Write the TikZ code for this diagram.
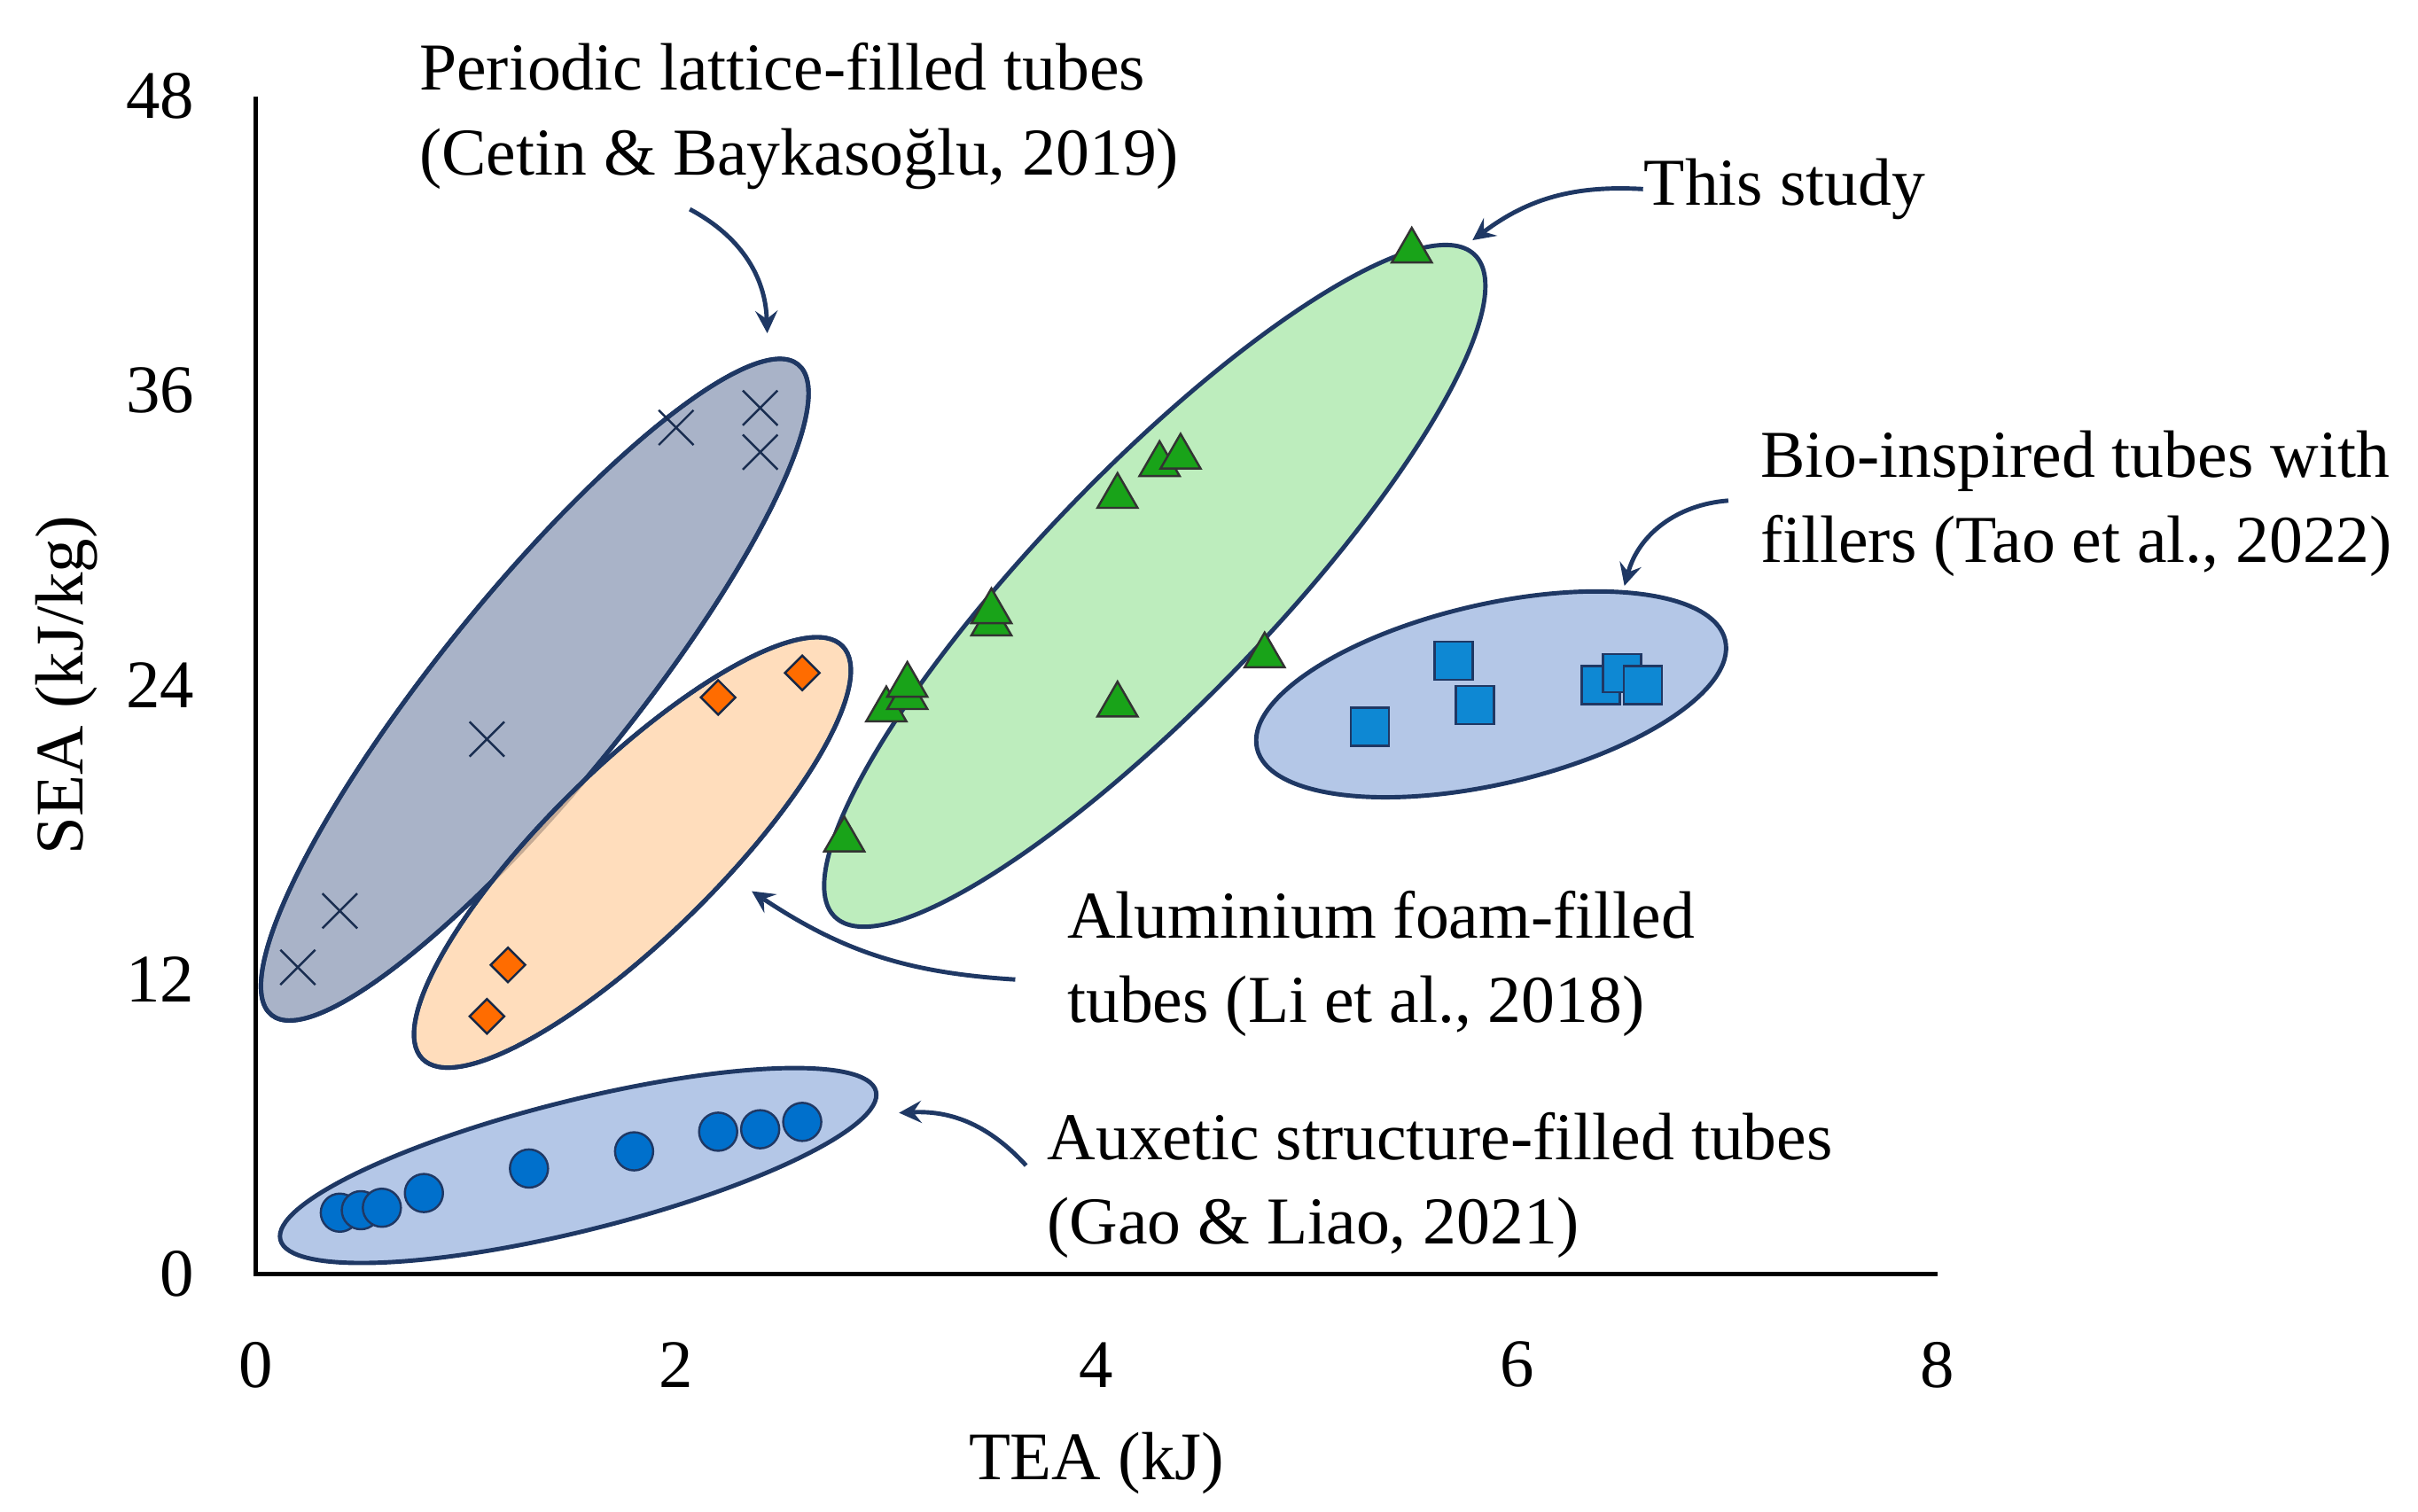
\documentclass[tikz,border=0pt]{standalone}
\usepackage{fontspec}
\setmainfont{Liberation Serif}
\usetikzlibrary{arrows,shapes,positioning}
\definecolor{navy}{HTML}{1F3864}
\definecolor{slate}{HTML}{8C9AB5}
\definecolor{paleblue}{HTML}{B4C7E7}
\tikzset{
  lbl/.style   = {align=left, anchor=west, font=\fontsize{12.3}{15.5}\selectfont, inner sep=0pt},
  tick/.style  = {font=\fontsize{12.5}{15}\selectfont},
  blob/.style  = {draw=navy, thick, fill opacity=0.75},
  pointer/.style = {->, >=stealth, thick, navy},
  crossmk/.style = {cross out, draw=navy!80!black, thin, minimum size=6pt, inner sep=0pt},
  diamk/.style = {diamond, draw=navy!70!black, fill=orange!85!red, minimum size=6.5pt, inner sep=0pt},
  trimk/.style = {regular polygon, regular polygon sides=3, draw=black!80, fill=green!60!black!90, minimum size=8.5pt, inner sep=0pt},
  sqmk/.style  = {rectangle, draw=navy, fill=cyan!70!blue, minimum size=7pt, inner sep=0pt},
  cirmk/.style = {circle, draw=navy, fill=blue!45!cyan!80!black, minimum size=7pt, inner sep=0pt}
}
\begin{document}
\begin{tikzpicture}
\useasboundingbox (0,0) rectangle (15.6,9.75);

% groups
\fill[blob, fill=slate] (3.45,5.30) ellipse [x radius=2.7cm, y radius=0.62cm, rotate=51];
\draw[navy, thick] (3.45,5.30) ellipse [x radius=2.7cm, y radius=0.62cm, rotate=51];
\fill[blob, fill=orange!35] (4.08,4.25) ellipse [x radius=1.9cm, y radius=0.55cm, rotate=44.5];
\draw[navy, thick] (4.08,4.25) ellipse [x radius=1.9cm, y radius=0.55cm, rotate=44.5];
\filldraw[draw=navy, thick, fill=green!30!white!90!black!70] (7.45,5.97) ellipse [x radius=2.97cm, y radius=0.75cm, rotate=46];
\filldraw[draw=navy, thick, fill=paleblue] (9.62,5.27) ellipse [x radius=1.55cm, y radius=0.58cm, rotate=13];
\filldraw[draw=navy, thick, fill=paleblue] (3.73,2.23) ellipse [x radius=1.98cm, y radius=0.42cm, rotate=14];

\begin{scope}[shift={(1.65,1.53)}, x=1.356cm, y=0.1583cm]
  % axes
  \draw[thick] (0,48) -- (0,0) -- (8,0);
  \foreach \v in {0,12,24,36,48}
    \node[tick, anchor=east] (y\v) at (-0.2,\v) {\v};
  \foreach \v in {0,2,4,6,8}
    \node[tick] (x\v) at (\v,-3.7) {\v};
  \node[tick, rotate=90] (ylab) at (-0.9,24) {SEA (kJ/kg)};
  \node[tick] (xlab) at (4,-7.7) {TEA (kJ)};

  % data
  \foreach \p [count=\i] in {(0.2,12.5),(0.4,14.8),(1.1,21.8),(2.0,34.5),(2.4,35.3),(2.4,33.5)}
    \node[crossmk] (c\i) at \p {};
  \foreach \p [count=\i] in {(1.1,10.5),(1.2,12.6),(2.2,23.5),(2.6,24.5)}
    \node[diamk] (d\i) at \p {};
  \foreach \p [count=\i] in {(2.8,17.7),(3.0,23.0),(3.1,23.5),(3.1,24.0),(3.5,26.5),(3.5,27.0),(4.1,23.2),(4.1,31.7),(4.3,33.0),(4.4,33.3),(4.8,25.2),(5.5,41.7)}
    \node[trimk] (t\i) at \p {};
  \foreach \p [count=\i] in {(5.3,22.3),(5.7,25.0),(5.8,23.2),(6.4,24.0),(6.5,24.5),(6.6,24.0)}
    \node[sqmk] (s\i) at \p {};
  \foreach \p [count=\i] in {(0.4,2.5),(0.5,2.6),(0.6,2.7),(0.8,3.3),(1.3,4.3),(1.8,5.0),(2.2,5.8),(2.4,5.9),(2.6,6.2)}
    \node[cirmk] (o\i) at \p {};
\end{scope}

% labels
\node[lbl] (lattice) at (2.70,9.0) {Periodic lattice-filled tubes\\(Cetin \& Baykasoğlu, 2019)};
\node[lbl] (study) at (10.60,8.53) {This study};
\node[lbl] (bio) at (11.35,6.5) {Bio-inspired tubes with\\fillers (Tao et al., 2022)};
\node[lbl] (foam) at (6.88,3.53) {Aluminium foam-filled\\tubes (Li et al., 2018)};
\node[lbl] (auxetic) at (6.75,2.10) {Auxetic structure-filled tubes\\(Gao \& Liao, 2021)};

\coordinate (latticeTip) at (4.95,7.6);
\coordinate (studyTip) at (9.50,8.2);
\coordinate (bioTip) at (10.48,5.97);
\coordinate (foamTip) at (4.85,4.0);
\coordinate (auxTip) at (5.80,2.57);

\draw[pointer] (4.45,8.40) to[bend left=30] (latticeTip);
\draw[pointer] (study.west) to[bend right=20] (studyTip);
\draw[pointer] (11.15,6.52) to[bend right=35] (bioTip);
\draw[pointer] (6.55,3.43) to[bend left=15] (foamTip);
\draw[pointer] (6.62,2.23) to[bend right=25] (auxTip);
\end{tikzpicture}
\end{document}
